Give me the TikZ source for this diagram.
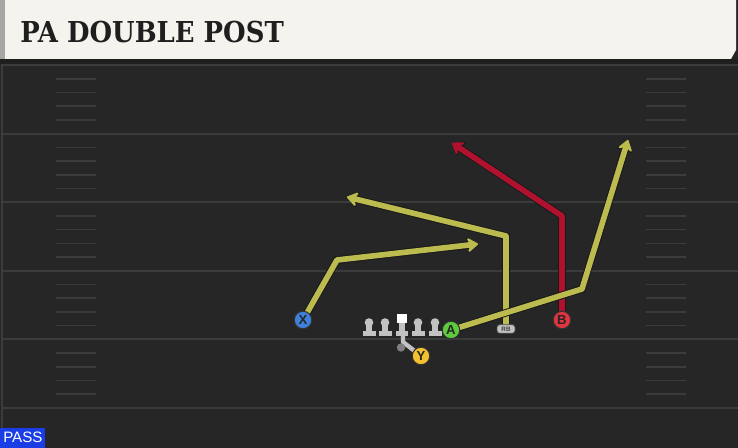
\documentclass[tikz,border=0pt]{standalone}
\usepackage{fontspec}
\usepackage{graphicx}
\setsansfont{Liberation Sans}
\newfontfamily\titlefont{DejaVu Serif}
\usepackage{tikz}
\usetikzlibrary{positioning,arrows.meta}

\definecolor{fieldbg}{HTML}{262626}
\definecolor{yardline}{HTML}{3B3B3B}
\definecolor{headbg}{HTML}{F5F3EE}
\definecolor{routeyel}{HTML}{BCBB50}
\definecolor{routered}{HTML}{B0122E}
\definecolor{xblue}{HTML}{3F80DA}
\definecolor{agreen}{HTML}{5DCB3C}
\definecolor{bred}{HTML}{E2343F}
\definecolor{yyel}{HTML}{F3C02F}
\definecolor{passblue}{HTML}{1B3DE6}
\definecolor{olgray}{HTML}{C2C2C2}

\pgfdeclarelayer{field}
\pgfdeclarelayer{routes}
\pgfsetlayers{field,routes,main}

\begin{document}
\begin{tikzpicture}[x=0.02cm, y=-0.02cm, >=Stealth,
  player/.style={circle, draw=black!80, line width=0.6pt, minimum size=0.35cm, inner sep=0pt,
    font=\sffamily\bfseries\fontsize{7.5}{7.5}\selectfont, text=black!85},
  route/.style={line width=3.2pt, line join=round, -{Stealth[length=2.6mm, width=3.6mm, inset=1mm, round]},
    preaction={draw=black!90, line width=4.3pt, -{Stealth[length=2.9mm, width=4.1mm, inset=1.1mm, round]}}},
  hash/.style={draw=yardline, line width=0.9pt}]
\useasboundingbox (0,0) rectangle (738,448);

\begin{pgfonlayer}{field}
\fill[fieldbg] (0,0) rectangle (738,448);
\fill[black!88] (0,59) rectangle (738,64);
\fill[headbg] (5,0) -- (736,0) -- (736,50) -- (731,59) -- (5,59) -- cycle;
\fill[black!35] (0,0) rectangle (5,59);
\draw[yardline, line width=1.1pt] (2,64) -- (2,448);
\foreach \y in {65,133.6,202.2,270.8,339.4,408}
  \draw[yardline, line width=1.1pt] (2,\y) -- (738,\y);
\foreach \b in {0,5,10,15,20}
  \foreach \j in {1,...,4} {
    \draw[hash] (56,65+13.72*\b+13.72*\j) -- (96,65+13.72*\b+13.72*\j);
    \draw[hash] (646,65+13.72*\b+13.72*\j) -- (686,65+13.72*\b+13.72*\j);
  }
\end{pgfonlayer}

\node[anchor=base west, text=black!88, inner sep=0pt] (title) at (20,43)
  {\scalebox{0.9}[1]{\titlefont\bfseries\fontsize{16.4}{16.4}\selectfont PA DOUBLE POST}};
\node[fill=passblue, text=white, anchor=south west, minimum width=0.9cm, minimum height=0.4cm, inner sep=0pt,
  font=\sffamily\fontsize{8.6}{8.6}\selectfont] (play) at (0,448) {PASS};

% line
\foreach \x/\n in {369/LT,385/LG,418/RG,435/RT} {
  \fill[olgray] (\x,322.5) circle (4.3);
  \fill[olgray] (\x-2.8,322.5) rectangle (\x+2.8,332);
  \fill[olgray] (\x-6.5,331) rectangle (\x+6.5,336.5);
  \coordinate (\n) at (\x,329);
}
\node[fill=white, minimum size=0.19cm, inner sep=0pt] (C) at (402,318.5) {};
\fill[olgray] (399.2,323) rectangle (404.8,332);
\fill[olgray] (396,331) rectangle (408,336.5);
\coordinate (snap) at (403,336);
\coordinate (snapturn) at (403,342);

\node[player, fill=xblue] (X) at (303,320) {X};
\node[player, fill=agreen] (A) at (451,330) {A};
\node[player, fill=bred] (B) at (562,320) {B};
\node[player, fill=yyel] (Y) at (421,356) {Y};
\node[fill=olgray, draw=black!70, line width=0.4pt, rounded corners=1.5pt, minimum width=0.36cm, minimum height=0.17cm,
  inner sep=0pt, font=\sffamily\bfseries\fontsize{3.6}{3.6}\selectfont, text=black!75] (RB) at (506,329) {RB};

\begin{pgfonlayer}{routes}
\draw[olgray, line width=2.5pt, line join=round] (snap) -- (snapturn) -- (Y.center);
\fill[black!50] (401,347.5) circle (4.2);
\draw[route, draw=routeyel] (X.center) -- (337,260) coordinate (xbreak) -- (478,244) coordinate (xend);
\draw[route, draw=routeyel] (RB.center) -- (506,236) coordinate (rbbreak) -- (347,197) coordinate (rbend);
\draw[route, draw=routered] (B.center) -- (562,216) coordinate (bbreak) -- (452,143) coordinate (bend);
\draw[route, draw=routeyel] (A.center) -- (582,289) coordinate (abreak) -- (628,140) coordinate (aend);
\end{pgfonlayer}
\end{tikzpicture}
\end{document}
